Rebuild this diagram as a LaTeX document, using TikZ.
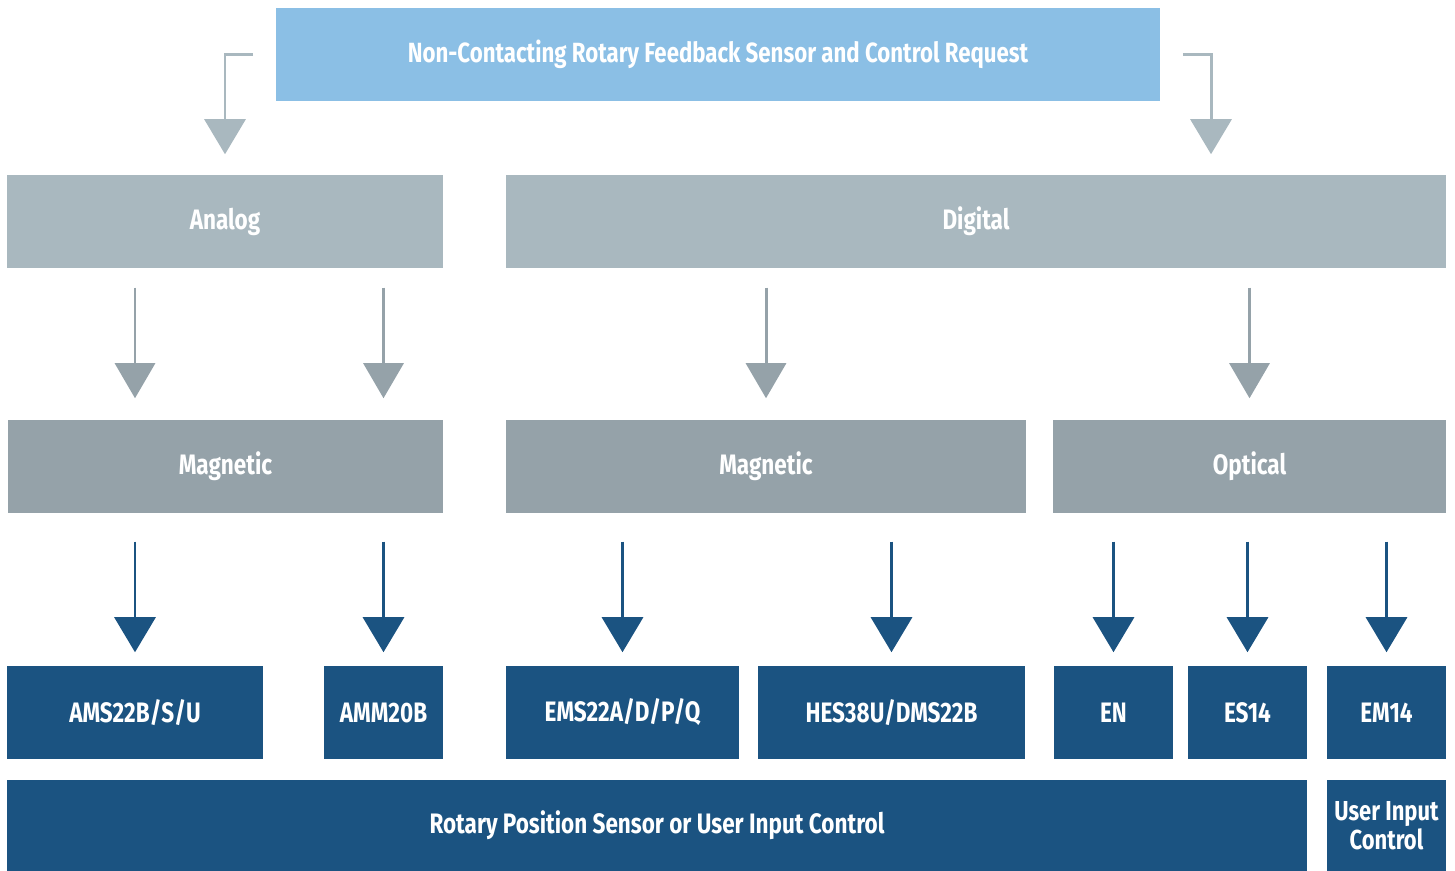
\documentclass[tikz,border=0pt]{standalone}
\usepackage{fontspec}
\usetikzlibrary{arrows.meta,calc}
\newfontfamily\labelfont[FakeStretch=0.8]{Fira Sans}

\definecolor{topblue}{HTML}{8BBFE5}
\definecolor{lightslate}{HTML}{A9B8BF}
\definecolor{midslate}{HTML}{95A2A9}
\definecolor{darkblue}{HTML}{1B5381}

\tikzset{
	box/.style={rectangle, inner sep=0pt, text=white, align=center,
		minimum height=0.93cm, font=\labelfont\bfseries\fontsize{8}{9}\selectfont},
	topbox/.style={box, fill=topblue, font=\labelfont\bfseries\fontsize{7.9}{9}\selectfont},
	groupbox/.style={box, fill=lightslate},
	kindbox/.style={box, fill=midslate},
	partbox/.style={box, fill=darkblue},
	lightarrow/.style={draw=lightslate, line width=0.85pt, -{Triangle[width=0.41cm,length=0.35cm]}},
	midarrow/.style={draw=midslate, line width=0.85pt, -{Triangle[width=0.40cm,length=0.35cm]}},
	darkarrow/.style={draw=darkblue, line width=0.85pt, -{Triangle[width=0.41cm,length=0.35cm]}}
}

\begin{document}
\begin{tikzpicture}[x=0.01cm,y=-0.01cm]
	\useasboundingbox (0,0) rectangle (1455,871);
	
	% top request
	\node[topbox, minimum width=8.84cm] (request) at (718,54.5) {Non-Contacting Rotary Feedback Sensor and Control Request};
	
	% analog / digital
	\node[groupbox, minimum width=4.36cm] (analog) at (225,221.5) {Analog};
	\node[groupbox, minimum width=9.40cm] (digital) at (976,221.5) {Digital};
	
	% sensing principle
	\node[kindbox, minimum width=4.35cm] (magA) at (225.5,466.5) {Magnetic};
	\node[kindbox, minimum width=5.20cm] (magD) at (766,466.5) {Magnetic};
	\node[kindbox, minimum width=3.93cm] (optical) at (1249.5,466.5) {Optical};
	
	% parts
	\node[partbox, minimum width=2.56cm] (ams) at (135,712.5) {AMS22B/S/U};
	\node[partbox, minimum width=1.19cm] (amm) at (383.5,712.5) {AMM20B};
	\node[partbox, minimum width=2.33cm] (ems) at (622.5,712.5) {EMS22A/D/P/Q};
	\node[partbox, minimum width=2.67cm] (hes) at (891.5,712.5) {HES38U/DMS22B};
	\node[partbox, minimum width=1.19cm] (en) at (1113.5,712.5) {EN};
	\node[partbox, minimum width=1.19cm] (es) at (1247.5,712.5) {ES14};
	\node[partbox, minimum width=1.19cm] (em) at (1386.5,712.5) {EM14};
	
	% use
	\node[partbox, minimum width=13.00cm, minimum height=0.91cm] (rotary) at (657,825.5) {Rotary Position Sensor or User Input Control};
	\node[partbox, minimum width=1.19cm, minimum height=0.91cm, font=\labelfont\bfseries\fontsize{7.8}{8.3}\selectfont] (user) at (1386.5,825.5) {User Input\\Control};
	
	\coordinate (rturn) at (1211,0);
	
	\draw[lightarrow, shorten <=0.22cm, shorten >=0.2cm] (request.west) -| (analog.north);
	\draw[lightarrow, shorten <=0.22cm, shorten >=0.2cm] (request.east) -| (digital.north -| rturn);
	
	\draw[midarrow, shorten <=0.19cm, shorten >=0.21cm] (ams.north |- analog.south) -- (ams.north |- magA.north);
	\draw[midarrow, shorten <=0.19cm, shorten >=0.21cm] (amm.north |- analog.south) -- (amm.north |- magA.north);
	\draw[midarrow, shorten <=0.19cm, shorten >=0.21cm] (magD.north |- digital.south) -- (magD.north);
	\draw[midarrow, shorten <=0.19cm, shorten >=0.21cm] (optical.north |- digital.south) -- (optical.north);
	
	\foreach \part/\kind in {ams/magA, amm/magA, ems/magD, hes/magD, en/optical, es/optical, em/optical}
		\draw[darkarrow, shorten <=0.28cm, shorten >=0.13cm] (\part.north |- \kind.south) -- (\part.north);
\end{tikzpicture}
\end{document}
